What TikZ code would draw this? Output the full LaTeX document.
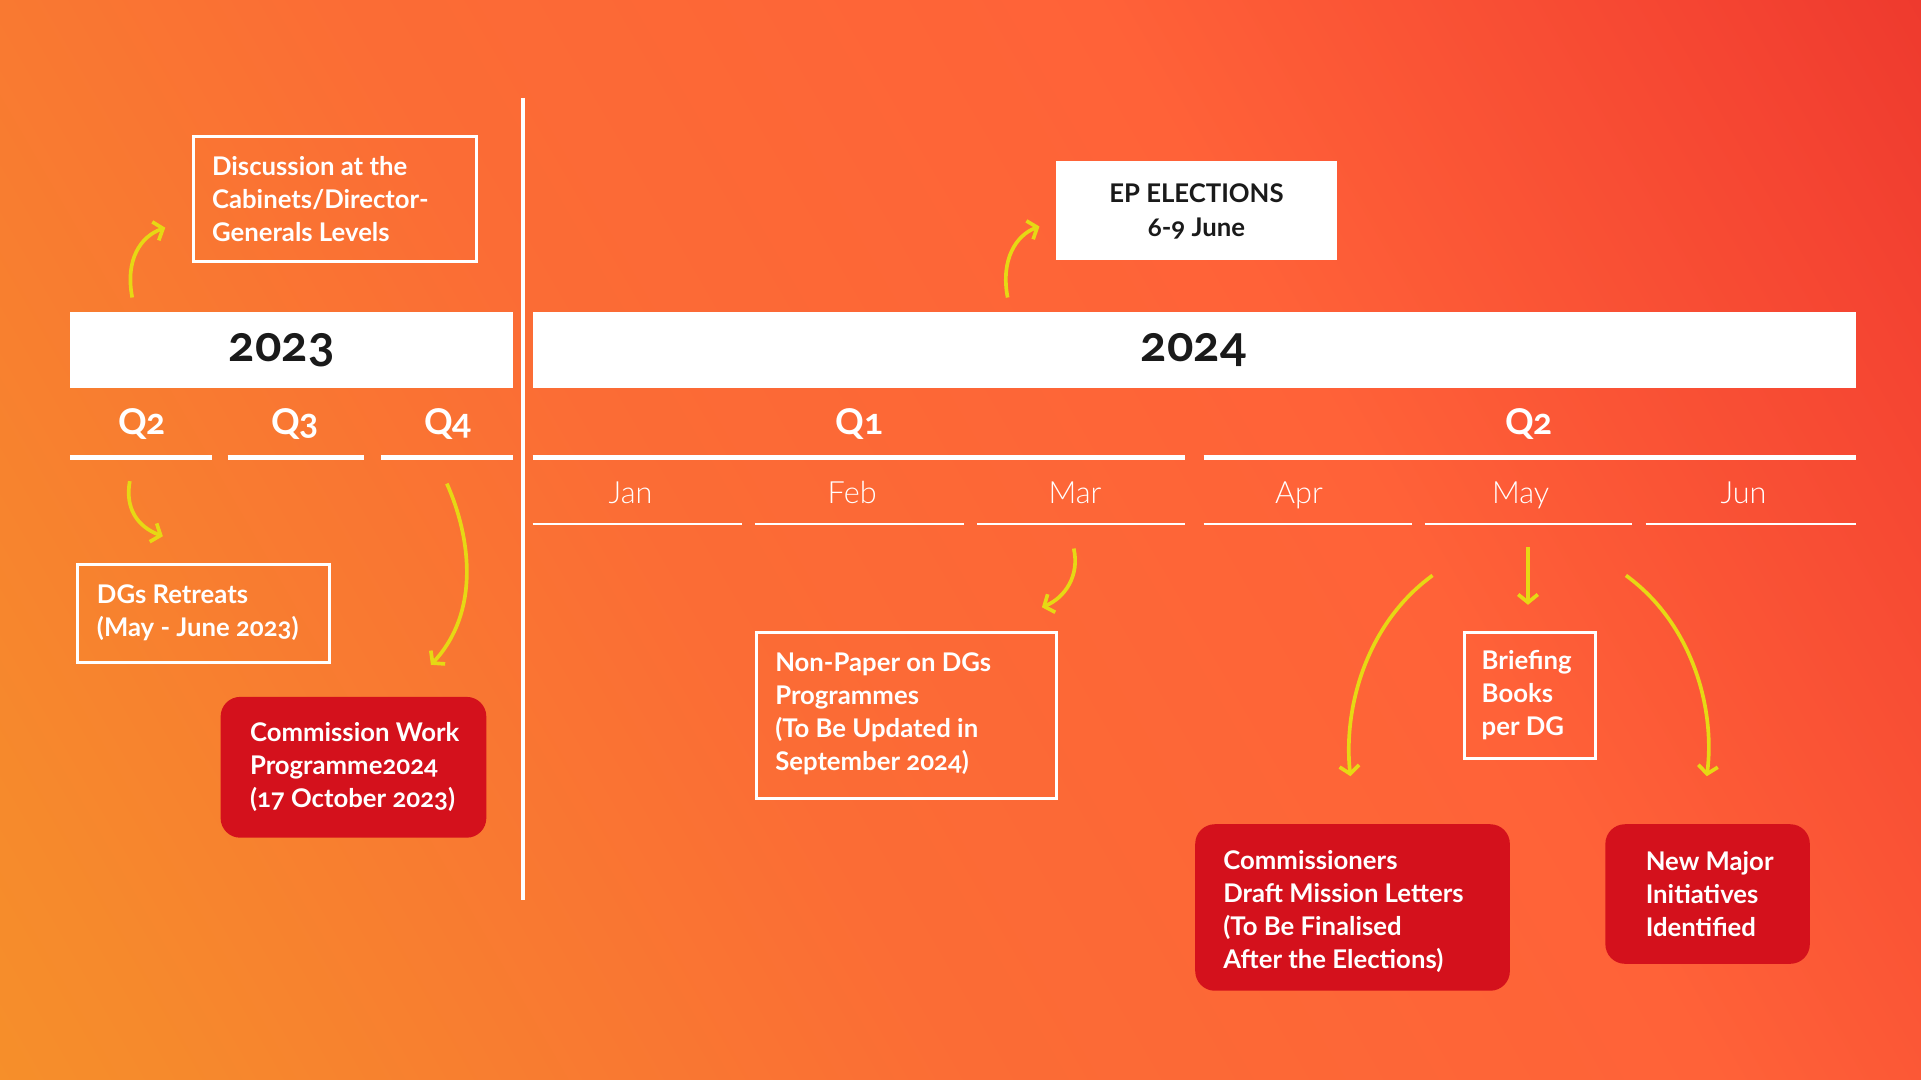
\documentclass[tikz,border=0pt]{standalone}
\usepackage{fontspec}
\setmainfont{Lato}[Numbers=OldStyle]
\newfontfamily\lightfont{Lato Light}[Numbers=OldStyle]
\usetikzlibrary{arrows.meta}
\definecolor{bgA}{HTML}{F7A023}
\definecolor{bgB}{HTML}{F68A2C}
\definecolor{bgC}{HTML}{FB6C35}
\definecolor{bgD}{HTML}{FF6238}
\definecolor{bgE}{HTML}{F54532}
\definecolor{bgF}{HTML}{E8302A}
\definecolor{bgG}{HTML}{DE1F1C}
\definecolor{boxred}{HTML}{D4111C}
\definecolor{arrowyellow}{HTML}{E6D814}
\definecolor{darktext}{HTML}{1A1A1A}
\pgfdeclarehorizontalshading{bgshade}{100bp}{color(0bp)=(bgA); color(20bp)=(bgB); color(42bp)=(bgC); color(62bp)=(bgD); color(78bp)=(bgE); color(90bp)=(bgF); color(100bp)=(bgG)}
\tikzset{
  boxtext/.style={font=\fontsize{21}{27}\selectfont\bfseries, align=left, inner sep=0pt, text=white},
  outbox/.style={draw=white, line width=2.5pt, inner sep=0pt},
  redbox/.style={fill=boxred, rounded corners=16pt, inner sep=0pt},
  whitebar/.style={fill=white, draw=none, inner sep=0pt},
  yearlabel/.style={font=\fontsize{40}{44}\selectfont\bfseries, text=darktext},
  qlabel/.style={font=\fontsize{29}{32}\selectfont\bfseries, text=white, anchor=base, inner sep=0pt},
  monthlabel/.style={font=\lightfont\fontsize{25}{28}\selectfont, text=white, anchor=base, inner sep=0pt},
  qline/.style={draw=white, line width=4pt},
  mline/.style={draw=white, line width=2pt},
  arr/.style={draw=arrowyellow, line width=3pt, -{Straight Barb[length=6.5pt,width=16pt]}},
}
\begin{document}
\begin{tikzpicture}[x=1pt,y=-1pt]
\useasboundingbox (0,0) rectangle (1569,882);
\shade[shading=bgshade, shading angle=30] (0,0) rectangle (1569,882);

% divider
\draw[white, line width=3pt] (427,80) -- (427,735);

% year bars
\node[whitebar, anchor=north west, minimum width=362pt, minimum height=62pt] (bar23) at (57,255) {};
\node[yearlabel] (y23) at (230,286) {2023};
\node[whitebar, anchor=north west, minimum width=1081pt, minimum height=62pt] (bar24) at (435,255) {};
\node[yearlabel] (y24) at (975,286) {2024};

% quarters
\node[qlabel] (q2a) at (116,355) {Q2};
\node[qlabel] (q3a) at (241,355) {Q3};
\node[qlabel] (q4a) at (366,355) {Q4};
\node[qlabel] (q1b) at (702,355) {Q1};
\node[qlabel] (q2b) at (1249,355) {Q2};
\draw[qline] (57,374) -- (173,374);
\draw[qline] (186,374) -- (297,374);
\draw[qline] (311,374) -- (419,374);
\draw[qline] (435,374) -- (968,374);
\draw[qline] (983,374) -- (1516,374);

% months
\node[monthlabel] (jan) at (515,411) {Jan};
\node[monthlabel] (feb) at (696,411) {Feb};
\node[monthlabel] (mar) at (878,411) {Mar};
\node[monthlabel] (apr) at (1061,411) {Apr};
\node[monthlabel] (may) at (1242,411) {May};
\node[monthlabel] (jun) at (1424,411) {Jun};
\draw[mline] (435,428) -- (606,428);
\draw[mline] (617,428) -- (787,428);
\draw[mline] (798,428) -- (968,428);
\draw[mline] (983,428) -- (1153,428);
\draw[mline] (1164,428) -- (1333,428);
\draw[mline] (1344,428) -- (1516,428);

% boxes
\node[outbox, anchor=north west, minimum width=231pt, minimum height=102pt] (disc) at (157,110) {};
\node[boxtext, anchor=west] (disct) at ([xshift=16pt]disc.west)
  {Discussion at the\\Cabinets/Director-\\Generals Levels};

\node[whitebar, anchor=north west, minimum width=230pt, minimum height=81pt] (ep) at (862,131) {};
\node[align=center, inner sep=0pt, font=\fontsize{21}{27}\selectfont\bfseries, text=darktext] (ept) at ([yshift=-1pt]ep.center)
  {EP ELECTIONS\\6-9 June};

\node[outbox, anchor=north west, minimum width=206pt, minimum height=80pt] (dgs) at (62,460) {};
\node[boxtext, anchor=west] (dgst) at ([xshift=17pt,yshift=1pt]dgs.west)
  {DGs Retreats\\(May - June 2023)};

\node[redbox, anchor=north west, minimum width=217pt, minimum height=115pt] (cwp) at (180,569) {};
\node[boxtext, anchor=west] (cwpt) at ([xshift=24pt]cwp.west)
  {Commission Work\\Programme2024\\(17 October 2023)};

\node[outbox, anchor=north west, minimum width=245pt, minimum height=136pt] (np) at (617,515) {};
\node[boxtext, anchor=west] (npt) at ([xshift=16pt,yshift=1pt]np.west)
  {Non-Paper on DGs\\Programmes\\(To Be Updated in\\September 2024)};

\node[outbox, anchor=north west, minimum width=107pt, minimum height=103pt] (bb) at (1195,515) {};
\node[boxtext, anchor=west] (bbt) at ([xshift=15pt]bb.west)
  {Briefing\\Books\\per DG};

\node[redbox, anchor=north west, minimum width=257pt, minimum height=136pt] (cml) at (976,673) {};
\node[boxtext, anchor=west] (cmlt) at ([xshift=23pt,yshift=-3pt]cml.west)
  {Commissioners\\Draft Mission Letters\\(To Be Finalised\\After the Elections)};

\node[redbox, anchor=north west, minimum width=167pt, minimum height=114pt] (nmi) at (1311,673) {};
\node[boxtext, anchor=west] (nmit) at ([xshift=33pt]nmi.west)
  {New Major\\Initiatives\\Identified};

% arrow end points
\coordinate (a1s) at (108,243); \coordinate (a1e) at (135,186);
\coordinate (a2s) at (823,243); \coordinate (a2e) at (849,185);
\coordinate (a3s) at (106,393); \coordinate (a3e) at (133,438);
\coordinate (a4s) at (365,395); \coordinate (a4e) at (352,543);
\coordinate (a5s) at (877,448); \coordinate (a5e) at (851,496);
\coordinate (a6s) at (1248,447); \coordinate (a6e) at (1248,494);
\coordinate (a7s) at (1170,470); \coordinate (a7e) at (1103,634);
\coordinate (a8s) at (1328,470); \coordinate (a8e) at (1394,634);

\draw[arr] (a1s) .. controls (102,212) and (115,193) .. (a1e);
\draw[arr] (a2s) .. controls (817,212) and (830,192) .. (a2e);
\draw[arr] (a3s) .. controls (102,415) and (112,430) .. (a3e);
\draw[arr] (a4s) .. controls (385,440) and (392,500) .. (a4e);
\draw[arr] (a5s) .. controls (882,470) and (870,488) .. (a5e);
\draw[arr] (a6s) -- (a6e);
\draw[arr] (a7s) .. controls (1115,510) and (1097,580) .. (a7e);
\draw[arr] (a8s) .. controls (1383,510) and (1401,580) .. (a8e);
\end{tikzpicture}
\end{document}
